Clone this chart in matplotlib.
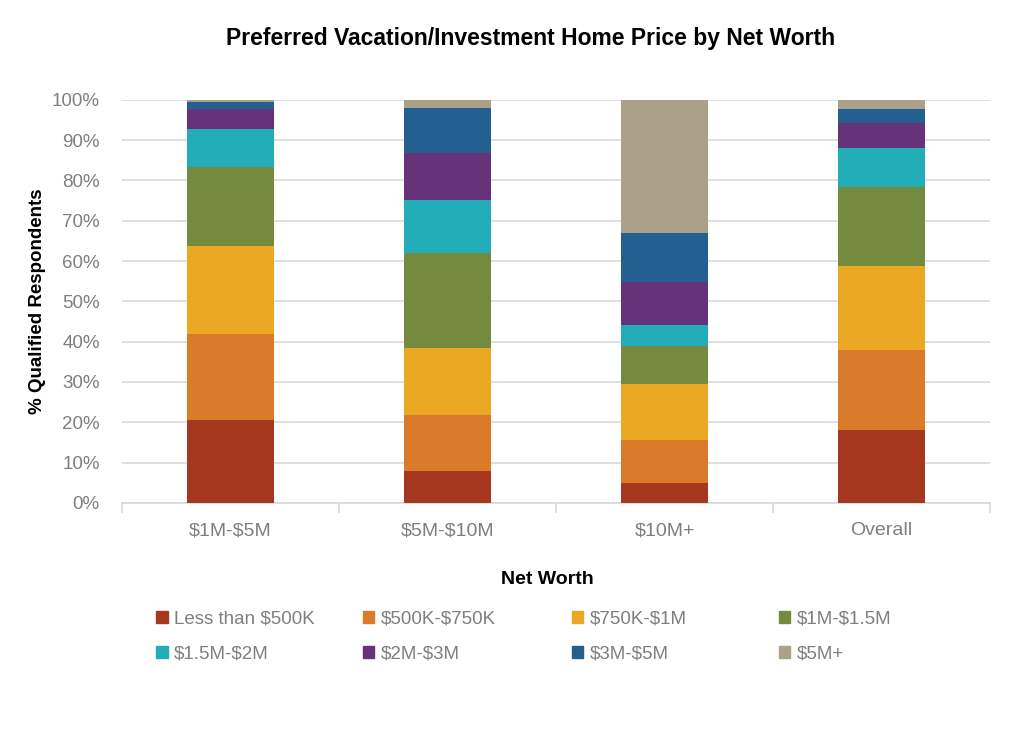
import numpy as np
import matplotlib
matplotlib.use("Agg")
import matplotlib.pyplot as plt
from matplotlib.patches import Patch
from matplotlib.ticker import FixedLocator, PercentFormatter

# categories on the x axis
groups = ["$1M-$5M", "$5M-$10M", "$10M+", "Overall"]

# price bands (stacked bottom to top), values in %
bands = ["Less than $500K", "$500K-$750K", "$750K-$1M", "$1M-$1.5M",
         "$1.5M-$2M", "$2M-$3M", "$3M-$5M", "$5M+"]
less_500k = [20.6, 8.0, 5.0, 18.2]
k500_750 = [21.3, 13.9, 10.6, 19.7]
k750_1m = [21.8, 16.6, 14.0, 20.9]
m1_15 = [19.6, 23.4, 9.2, 19.5]
m15_2 = [9.4, 13.2, 5.3, 9.7]
m2_3 = [5.1, 11.7, 10.6, 6.2]
m3_5 = [1.6, 11.1, 12.3, 3.5]
m5_plus = [0.6, 2.1, 33.4, 2.3]

series = [less_500k, k500_750, k750_1m, m1_15, m15_2, m2_3, m3_5, m5_plus]
colors = ["#A5381F", "#D97B2B", "#EBA823", "#748A3E",
          "#23ADB9", "#66337A", "#235F8F", "#ABA088"]

plt.rcParams['font.family'] = ["Liberation Sans", "DejaVu Sans"]
plt.rcParams['text.parse_math'] = False  # keep the $ signs literal
grey = "#7F7F7F"

fig = plt.figure(figsize=(10.24, 7.45), dpi=100)
ax = fig.add_axes([0.119, 0.325, 0.848, 0.541])

x = np.arange(len(groups))
bottom = np.zeros(len(groups))
for vals, col, name in zip(series, colors, bands):
    ax.bar(x, vals, 0.4, bottom=bottom, color=col, label=name, zorder=3)
    bottom += np.array(vals)

ax.set_xlim(-0.5, len(groups) - 0.5)
ax.set_ylim(0, 100)
ax.yaxis.set_major_locator(FixedLocator(np.arange(0, 101, 10)))
ax.yaxis.set_major_formatter(PercentFormatter(decimals=0))
ax.grid(axis="y", color="#D9D9D9", linewidth=1.2, zorder=0)

ax.set_xticks(x)
ax.set_xticklabels(groups)
ax.set_xticks(np.arange(-0.5, len(groups)), minor=True)
ax.tick_params(axis="x", which="major", length=0, pad=14, labelsize=14, labelcolor=grey)
ax.tick_params(axis="x", which="minor", length=7, color="#D9D9D9", width=1.2)
ax.tick_params(axis="y", length=0, pad=16, labelsize=13.5, labelcolor=grey)

for s in ["top", "right", "left"]:
    ax.spines[s].set_visible(False)
ax.spines["bottom"].set_color("#D9D9D9")
ax.spines["bottom"].set_linewidth(1.2)

ax.set_xlabel("Net Worth", fontsize=14, fontweight="bold")
ax.xaxis.set_label_coords(0.49, -0.17)
ax.set_ylabel("% Qualified Respondents", fontsize=13.5, fontweight="bold")
ax.yaxis.set_label_coords(-0.087, 0.5)
fig.suptitle("Preferred Vacation/Investment Home Price by Net Worth",
             x=0.518, y=0.964, fontsize=16.5, fontweight="bold")

# legend: four evenly spaced columns, two rows each
col_x = [0.145, 0.347, 0.551, 0.753]
for j, cx in enumerate(col_x):
    handles = [Patch(color=colors[j]), Patch(color=colors[j + 4])]
    labels = [bands[j], bands[j + 4]]
    leg = fig.legend(handles, labels, loc="upper left", bbox_to_anchor=(cx, 0.191),
                     frameon=False, fontsize=13.5, handlelength=0.62, handleheight=0.62,
                     handletextpad=0.35, labelspacing=1.0, borderaxespad=0)
    for t in leg.get_texts():
        t.set_color(grey)

fig.savefig("out.png", dpi=100)
